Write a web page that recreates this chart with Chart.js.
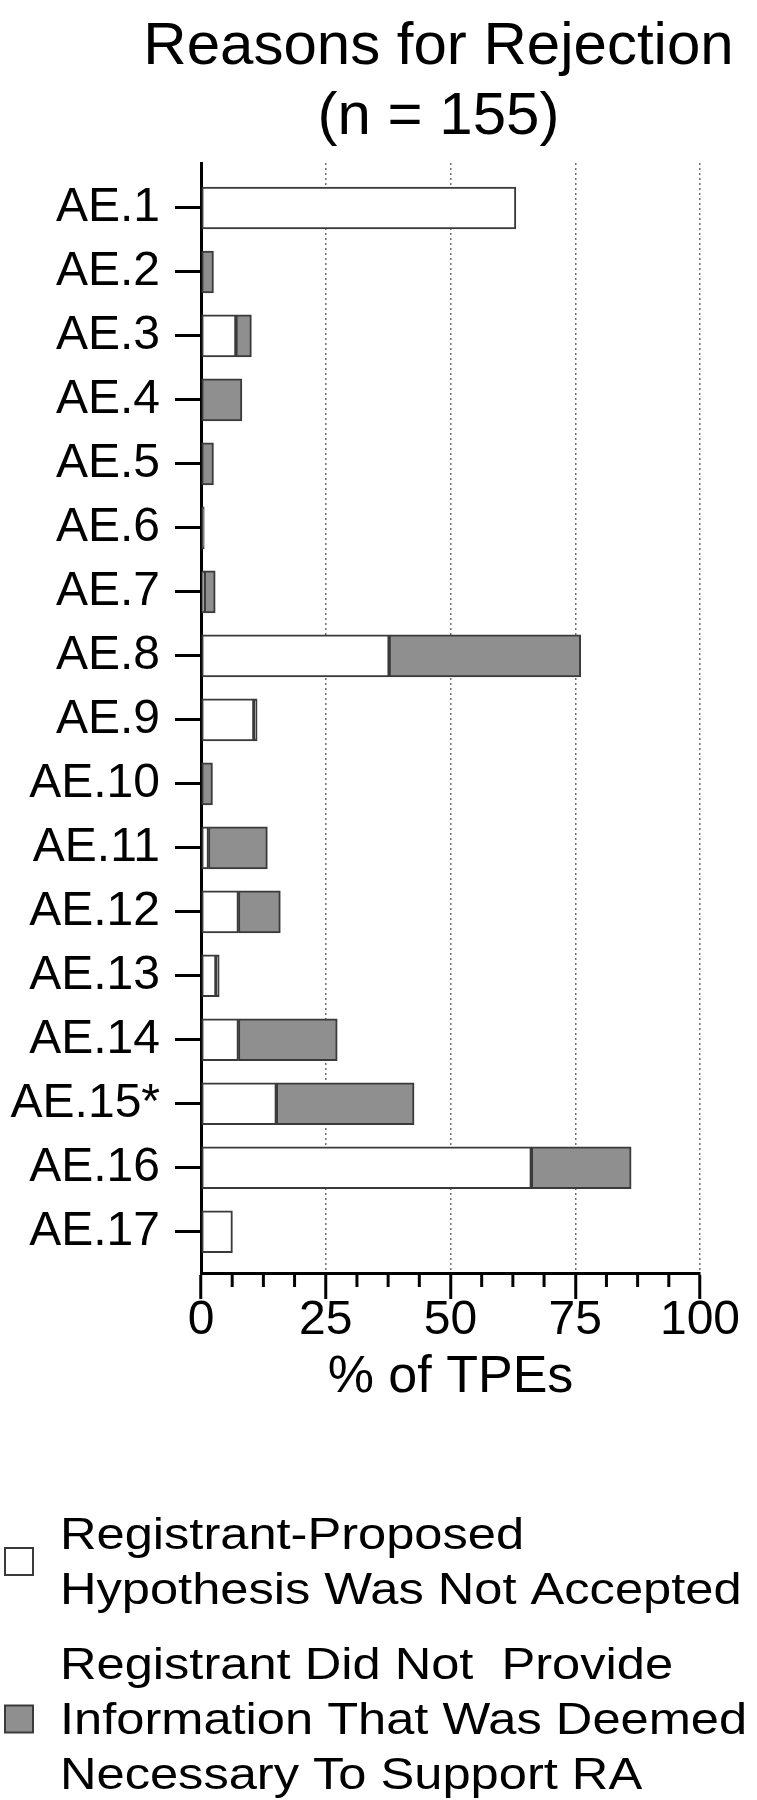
<!DOCTYPE html>
<html>
<head>
<meta charset="utf-8">
<title>Reasons for Rejection</title>
<script src="https://cdn.jsdelivr.net/npm/chart.js@4.4.1/dist/chart.umd.min.js"></script>
<style>
  html, body { margin: 0; padding: 0; background: #fff; }
  #wrap { width: 757px; height: 1800px; }
</style>
</head>
<body>
<div id="wrap"><canvas id="rejectionChart" width="757" height="1800"></canvas></div>
<script>
// chart data
const categories = ['AE.1', 'AE.2', 'AE.3', 'AE.4', 'AE.5', 'AE.6', 'AE.7', 'AE.8', 'AE.9',
    'AE.10', 'AE.11', 'AE.12', 'AE.13', 'AE.14', 'AE.15*', 'AE.16', 'AE.17'];
const notAccepted = [63.1, 0, 7.0, 0, 0, 0, 0.65, 37.7, 10.6, 0, 1.5, 7.5, 3.0, 7.5, 15.1, 66.2, 6.3];
const notProvided = [0, 2.5, 3.1, 8.2, 2.5, 0.65, 2.2, 38.4, 0.65, 2.3, 11.8, 8.4, 0.65, 19.8, 27.6, 20.0, 0];
const xTickStep = 25;
const xMinorStep = 6.25;
const titleLines = ['Reasons for Rejection', '(n = 155)'];
const axisTitle = '% of TPEs';
const legendLabels = [
    ['Registrant-Proposed', 'Hypothesis Was Not Accepted'],
    ['Registrant Did Not  Provide', 'Information That Was Deemed', 'Necessary To Support RA']
];

const FONT = '"Liberation Sans", Arial, sans-serif';
const WHITE = '#ffffff';
const GREY = '#8f8f8f';
const EDGE = '#3a3a3a';

Chart.defaults.font.family = FONT;
Chart.defaults.color = '#000';

// zero segments are left out so they don't leave a hairline
const toPoints = values => values.map((v, i) => ({ x: v === 0 ? null : v, y: i }));

const titlePlugin = {
    id: 'twoLineTitle',
    afterDraw(chart) {
        const ctx = chart.ctx;
        const cx = (chart.chartArea.left + chart.chartArea.right) / 2 - 12;
        ctx.save();
        ctx.font = '60px ' + FONT;
        ctx.fillStyle = '#000';
        ctx.textAlign = 'center';
        ctx.textBaseline = 'alphabetic';
        ctx.fillText(titleLines[0], cx, 64);
        ctx.fillText(titleLines[1], cx, 134);
        ctx.restore();
    }
};

const minorTickPlugin = {
    id: 'minorTicks',
    afterDraw(chart) {
        const xScale = chart.scales.x;
        const ctx = chart.ctx;
        const y0 = chart.chartArea.bottom;
        ctx.save();
        ctx.strokeStyle = '#000';
        ctx.lineWidth = 3;
        for (let v = xScale.min; v <= xScale.max; v += xMinorStep) {
            if (v % xTickStep === 0) continue;
            const px = xScale.getPixelForValue(v);
            ctx.beginPath();
            ctx.moveTo(px, y0);
            ctx.lineTo(px, y0 + 14);
            ctx.stroke();
        }
        ctx.restore();
    }
};

const legendPlugin = {
    id: 'sideLegend',
    afterDraw(chart) {
        const ctx = chart.ctx;
        const lineGap = 55;
        const starts = [1549, 1679];
        ctx.save();
        ctx.font = '44px ' + FONT;
        ctx.textBaseline = 'alphabetic';
        chart.data.datasets.forEach((ds, k) => {
            const lines = legendLabels[k];
            const base = starts[k];
            lines.forEach((line, i) => {
                ctx.save();
                ctx.translate(60, base + i * lineGap);
                ctx.scale(1.15, 1);
                ctx.fillStyle = '#000';
                ctx.fillText(line, 0, 0);
                ctx.restore();
            });
            // box sits at the middle of the text block
            const mid = base - 15 + (lines.length - 1) * lineGap / 2;
            ctx.fillStyle = ds.backgroundColor;
            ctx.fillRect(5, mid - 13.5, 28, 27);
            ctx.strokeStyle = EDGE;
            ctx.lineWidth = 2;
            ctx.strokeRect(5, mid - 13.5, 28, 27);
        });
        ctx.restore();
    }
};

const ctx = document.getElementById('rejectionChart').getContext('2d');

new Chart(ctx, {
    type: 'bar',
    data: {
        datasets: [
            {
                label: legendLabels[0].join(' '),
                data: toPoints(notAccepted),
                backgroundColor: WHITE,
                borderColor: EDGE,
                borderWidth: 2,
                borderSkipped: false,
                barThickness: 42
            },
            {
                label: legendLabels[1].join(' '),
                data: toPoints(notProvided),
                backgroundColor: GREY,
                borderColor: EDGE,
                borderWidth: 2,
                borderSkipped: false,
                barThickness: 42
            }
        ]
    },
    options: {
        indexAxis: 'y',
        responsive: false,
        animation: false,
        events: [],
        layout: { padding: { top: 163, right: 57, bottom: 386, left: 0 } },
        plugins: {
            legend: { display: false },
            title: { display: false },
            tooltip: { enabled: false }
        },
        scales: {
            x: {
                type: 'linear',
                position: 'bottom',
                min: 0,
                max: 100,
                stacked: true,
                afterFit: scale => { scale.height = 141; },
                ticks: { stepSize: xTickStep, padding: -7, maxRotation: 0, color: '#000', font: { size: 48 } },
                grid: {
                    color: c => (c.tick && c.tick.value === 0) ? 'rgba(0,0,0,0)' : '#6f6f6f',
                    lineWidth: 1.5,
                    tickLength: 26,
                    tickWidth: 3,
                    tickColor: '#000'
                },
                border: { color: '#000', width: 3, dash: [2, 3] },
                title: {
                    display: true,
                    text: axisTitle,
                    color: '#000',
                    font: { size: 52 },
                    padding: { top: 0, bottom: 5 }
                }
            },
            y: {
                type: 'linear',
                reverse: true,
                offset: false,
                min: -0.703,
                max: 16.645,
                stacked: true,
                afterFit: scale => { scale.width = 201; },
                afterBuildTicks: scale => {
                    scale.ticks = categories.map((c, i) => ({ value: i }));
                },
                ticks: {
                    autoSkip: false,
                    padding: 15,
                    color: '#000',
                    font: { size: 48 },
                    callback: v => categories[v] ?? ''
                },
                grid: { offset: false, drawOnChartArea: false, tickLength: 26, tickWidth: 3, tickColor: '#000' },
                border: { color: '#000', width: 3 }
            }
        }
    },
    plugins: [titlePlugin, minorTickPlugin, legendPlugin]
});
</script>
</body>
</html>
